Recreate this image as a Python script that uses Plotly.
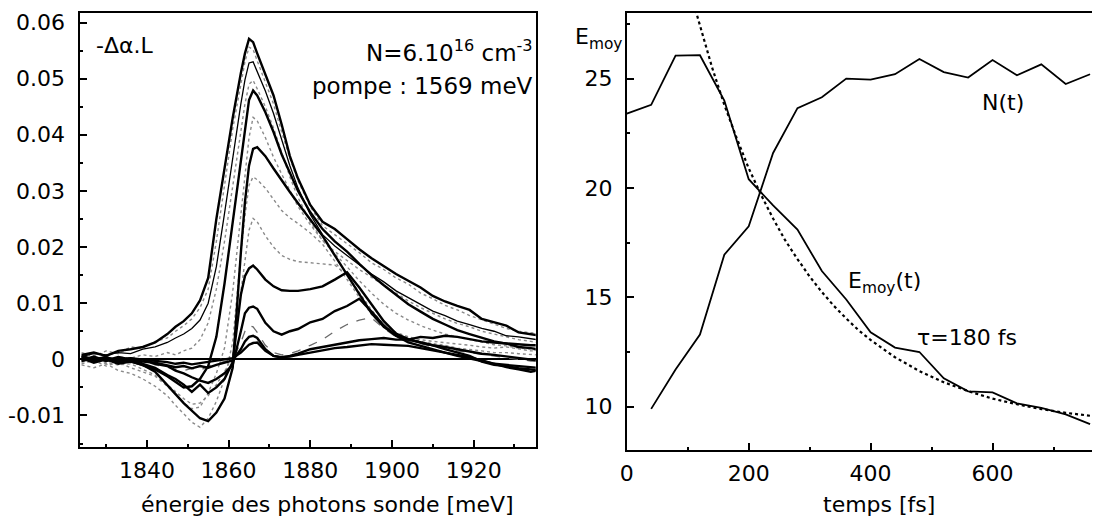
import plotly.graph_objects as go

# The page adds an 8 px body margin; the figure is sized so that it fills the 1100x523 window exactly.
OFF = 8
W, H = 1100 - OFF, 523 - OFF

# ---------------- Left panel data ----------------
energy = [1824, 1827, 1830, 1833, 1836, 1839, 1842, 1845, 1847, 1849, 1851, 1853, 1855, 1857,
          1859, 1861, 1863, 1864, 1865, 1866, 1867, 1869, 1871, 1873, 1875, 1877, 1880, 1883,
          1886, 1889, 1892, 1895, 1898, 1901, 1904, 1907, 1910, 1913, 1916, 1919, 1922, 1925,
          1928, 1931, 1934, 1935.5]

s1 = [0.0008, 0.0012, 0.0006, 0.0015, 0.0018, 0.0022, 0.0030, 0.0045, 0.0058, 0.0068, 0.0082, 0.0105, 0.0145, 0.0250,
      0.0340, 0.0430, 0.0510, 0.0545, 0.0571, 0.0565, 0.0545, 0.0509, 0.0470, 0.0418, 0.0362, 0.0322, 0.0275, 0.0245,
      0.0232, 0.0214, 0.0196, 0.0180, 0.0166, 0.0152, 0.0140, 0.0128, 0.0113, 0.0103, 0.0095, 0.0088, 0.0072, 0.0066,
      0.0060, 0.0048, 0.0045, 0.0043]
s2 = [0.0012, 0.0005, 0.0015, 0.0010, 0.0022, 0.0020, 0.0032, 0.0038, 0.0050, 0.0060, 0.0072, 0.0092, 0.0125, 0.0210,
      0.0310, 0.0410, 0.0490, 0.0530, 0.0556, 0.0552, 0.0532, 0.0495, 0.0455, 0.0405, 0.0358, 0.0318, 0.0272, 0.0238,
      0.0222, 0.0205, 0.0190, 0.0172, 0.0160, 0.0145, 0.0134, 0.0118, 0.0108, 0.0096, 0.0088, 0.0078, 0.0070, 0.0062,
      0.0055, 0.0050, 0.0048, 0.0046]
s3 = [0.0005, 0.0010, 0.0008, 0.0012, 0.0010, 0.0018, 0.0022, 0.0030, 0.0038, 0.0045, 0.0055, 0.0070, 0.0100, 0.0165,
      0.0260, 0.0360, 0.0455, 0.0498, 0.0528, 0.0530, 0.0512, 0.0478, 0.0438, 0.0392, 0.0345, 0.0305, 0.0258, 0.0222,
      0.0202, 0.0185, 0.0168, 0.0152, 0.0138, 0.0122, 0.0110, 0.0098, 0.0086, 0.0078, 0.0068, 0.0062, 0.0055, 0.0050,
      0.0042, 0.0040, 0.0036, 0.0035]
s4 = [-0.0005, 0.0002, -0.0008, 0.0004, 0.0002, 0.0008, 0.0005, 0.0012, 0.0008, 0.0015, 0.0020, 0.0035, 0.0065, 0.0125,
      0.0210, 0.0310, 0.0410, 0.0455, 0.0490, 0.0497, 0.0482, 0.0450, 0.0412, 0.0368, 0.0325, 0.0288, 0.0245, 0.0212,
      0.0192, 0.0176, 0.0160, 0.0146, 0.0132, 0.0118, 0.0104, 0.0092, 0.0082, 0.0072, 0.0064, 0.0058, 0.0050, 0.0045,
      0.0040, 0.0035, 0.0032, 0.0030]
s5 = [0.0003, -0.0004, 0.0002, -0.0006, -0.0003, -0.0010, -0.0018, -0.0030, -0.0040, -0.0050, -0.0048, -0.0035, -0.0012, 0.0040,
      0.0135, 0.0245, 0.0362, 0.0415, 0.0462, 0.0479, 0.0470, 0.0440, 0.0405, 0.0365, 0.0332, 0.0300, 0.0262, 0.0232,
      0.0210, 0.0192, 0.0170, 0.0150, 0.0132, 0.0115, 0.0098, 0.0085, 0.0072, 0.0062, 0.0052, 0.0045, 0.0038, 0.0032,
      0.0028, 0.0022, 0.0020, 0.0018]
s6 = [-0.0008, -0.0002, -0.0012, -0.0005, -0.0015, -0.0022, -0.0030, -0.0048, -0.0062, -0.0078, -0.0088, -0.0085, -0.0060, -0.0025,
      0.0020, 0.0120, 0.0260, 0.0320, 0.0395, 0.0431, 0.0425, 0.0395, 0.0360, 0.0330, 0.0300, 0.0272, 0.0240, 0.0212,
      0.0188, 0.0165, 0.0140, 0.0118, 0.0098, 0.0082, 0.0070, 0.0060, 0.0052, 0.0045, 0.0040, 0.0035, 0.0030, 0.0026,
      0.0024, 0.0020, 0.0018, 0.0016]
s7 = [0.0002, -0.0006, 0.0000, -0.0008, -0.0004, -0.0010, -0.0022, -0.0045, -0.0062, -0.0078, -0.0092, -0.0105, -0.0110, -0.0095,
      -0.0070, -0.0015, 0.0190, 0.0280, 0.0345, 0.0375, 0.0378, 0.0362, 0.0340, 0.0318, 0.0298, 0.0278, 0.0250, 0.0220,
      0.0185, 0.0150, 0.0115, 0.0082, 0.0058, 0.0042, 0.0035, 0.0030, 0.0025, 0.0022, 0.0018, 0.0015, 0.0010, 0.0008,
      0.0005, 0.0002, 0.0000, -0.0002]
s8 = [-0.0010, -0.0015, -0.0008, -0.0020, -0.0025, -0.0035, -0.0048, -0.0065, -0.0082, -0.0098, -0.0112, -0.0121, -0.0105, -0.0075,
      -0.0035, 0.0030, 0.0190, 0.0255, 0.0310, 0.0325, 0.0320, 0.0305, 0.0285, 0.0265, 0.0252, 0.0242, 0.0225, 0.0205,
      0.0175, 0.0142, 0.0110, 0.0080, 0.0058, 0.0045, 0.0038, 0.0032, 0.0028, 0.0025, 0.0020, 0.0018, 0.0015, 0.0012,
      0.0012, 0.0010, 0.0008, 0.0008]
s9 = [-0.0004, 0.0004, -0.0006, -0.0010, -0.0008, -0.0018, -0.0028, -0.0045, -0.0058, -0.0070, -0.0080, -0.0078, -0.0065, -0.0045,
      -0.0022, 0.0005, 0.0120, 0.0180, 0.0230, 0.0251, 0.0245, 0.0220, 0.0200, 0.0185, 0.0178, 0.0174, 0.0172, 0.0170,
      0.0168, 0.0150, 0.0118, 0.0088, 0.0062, 0.0048, 0.0040, 0.0035, 0.0032, 0.0030, 0.0028, 0.0025, 0.0022, 0.0020,
      0.0022, 0.0018, 0.0015, 0.0015]
s10 = [0.0006, 0.0000, 0.0004, -0.0004, 0.0002, -0.0008, -0.0015, -0.0028, -0.0035, -0.0045, -0.0058, -0.0045, -0.0060, -0.0050,
       -0.0035, -0.0005, 0.0115, 0.0148, 0.0162, 0.0167, 0.0160, 0.0142, 0.0130, 0.0123, 0.0122, 0.0122, 0.0125, 0.0130,
       0.0142, 0.0155, 0.0128, 0.0098, 0.0068, 0.0046, 0.0036, 0.0030, 0.0025, 0.0018, 0.0012, 0.0006, -0.0004, -0.0010,
       -0.0012, -0.0016, -0.0018, -0.0019]
s11 = [-0.0002, 0.0005, -0.0003, 0.0002, -0.0005, 0.0000, -0.0008, -0.0012, -0.0020, -0.0025, -0.0032, -0.0038, -0.0042, -0.0035,
       -0.0025, -0.0010, 0.0050, 0.0082, 0.0092, 0.0094, 0.0090, 0.0065, 0.0050, 0.0044, 0.0050, 0.0054, 0.0066, 0.0072,
       0.0086, 0.0095, 0.0108, 0.0085, 0.0060, 0.0042, 0.0030, 0.0024, 0.0018, 0.0012, 0.0008, 0.0004, -0.0002, -0.0008,
       -0.0014, -0.0018, -0.0022, -0.0020]
s12 = [0.0004, -0.0003, 0.0006, 0.0000, -0.0006, -0.0002, -0.0010, -0.0014, -0.0018, -0.0020, -0.0016, -0.0020, -0.0012, -0.0008,
       -0.0004, 0.0000, 0.0030, 0.0050, 0.0060, 0.0058, 0.0048, 0.0025, 0.0012, 0.0008, 0.0010, 0.0015, 0.0025, 0.0035,
       0.0050, 0.0062, 0.0070, 0.0074, 0.0055, 0.0040, 0.0032, 0.0028, 0.0022, 0.0020, 0.0015, 0.0012, 0.0008, 0.0005,
       0.0002, 0.0000, -0.0003, -0.0003]
s13 = [-0.0003, 0.0002, -0.0002, 0.0004, 0.0000, -0.0004, -0.0006, -0.0010, -0.0014, -0.0012, -0.0016, -0.0012, -0.0015, -0.0010,
       -0.0006, -0.0002, 0.0018, 0.0032, 0.0040, 0.0042, 0.0038, 0.0018, 0.0006, 0.0003, 0.0006, 0.0010, 0.0018, 0.0022,
       0.0027, 0.0030, 0.0034, 0.0036, 0.0038, 0.0035, 0.0035, 0.0040, 0.0038, 0.0042, 0.0040, 0.0036, 0.0032, 0.0030,
       0.0028, 0.0026, 0.0025, 0.0025]
s14 = [0.0002, -0.0002, 0.0003, -0.0001, 0.0002, 0.0000, -0.0003, -0.0005, -0.0008, -0.0006, -0.0009, -0.0007, -0.0005, -0.0003,
       0.0000, 0.0002, 0.0012, 0.0020, 0.0026, 0.0029, 0.0030, 0.0015, 0.0006, 0.0004, 0.0005, 0.0008, 0.0012, 0.0016,
       0.0020, 0.0022, 0.0025, 0.0027, 0.0026, 0.0025, 0.0024, 0.0020, 0.0016, 0.0012, 0.0006, 0.0002, -0.0003, -0.0008,
       -0.0010, -0.0013, -0.0015, -0.0015]

# style per spectrum: (series, kind)
spectra = [(s2, "gray"), (s4, "gray"), (s6, "gray"), (s8, "gray"), (s9, "gray"), (s12, "dash"),
           (s3, "thin"), (s14, "thick"), (s13, "thick"), (s11, "thick"), (s10, "thick"),
           (s7, "thick"), (s5, "thick"), (s1, "thick")]

# ---------------- Right panel data ----------------
t_N = [40, 80, 120, 160, 200, 240, 280, 320, 360, 400, 440, 480, 520, 560, 600, 640, 680, 720, 760]
N_t = [9.9, 11.7, 13.3, 16.95, 18.25, 21.6, 23.65, 24.15, 25.0, 24.95, 25.2, 25.9, 25.3, 25.05, 25.85, 25.15, 25.65, 24.75, 25.2]

t_E = [0, 40, 80, 120, 160, 200, 240, 280, 320, 360, 400, 440, 480, 520, 560, 600, 640, 680, 720, 760]
E_t = [23.4, 23.8, 26.05, 26.07, 24.0, 20.4, 19.2, 18.1, 16.2, 14.9, 13.4, 12.7, 12.5, 11.3, 10.7, 10.65, 10.15, 9.95, 9.65, 9.2]

t_fit = [110, 120, 140, 160, 180, 200, 220, 240, 260, 280, 300, 320, 340, 360, 380, 400, 440, 480, 520, 560, 600,
         640, 680, 720, 773]
E_fit = [28.4, 27.4, 25.5, 23.8, 22.3, 20.9, 19.7, 18.6, 17.6, 16.75, 15.95, 15.24, 14.6, 14.03, 13.5, 13.05, 12.26,
         11.63, 11.12, 10.71, 10.37, 10.11, 9.89, 9.72, 9.54]

left_ticks = [-0.01, 0, 0.01, 0.02, 0.03, 0.04, 0.05, 0.06]
left_ticktext = ["-0.01", "0", "0.01", "0.02", "0.03", "0.04", "0.05", "0.06"]
bottom_ticks = [1840, 1860, 1880, 1900, 1920]
right_yticks = [10, 15, 20, 25]
right_xticks = [0, 200, 400, 600]

FONT = "DejaVu Sans"
FS = 22

fig = go.Figure()

styles = {
    "thick": dict(color="black", width=2.4),
    "thin": dict(color="black", width=1.3),
    "gray": dict(color="#8a8a8a", width=1.4, dash="dot"),
    "dash": dict(color="#6a6a6a", width=1.3, dash="dash"),
}
for ser, kind in spectra:
    fig.add_trace(go.Scatter(x=energy, y=ser, mode="lines", line=styles[kind],
                             xaxis="x", yaxis="y", showlegend=False, hoverinfo="skip"))

fig.add_trace(go.Scatter(x=t_N, y=N_t, mode="lines", line=dict(color="black", width=1.8),
                         xaxis="x2", yaxis="y2", showlegend=False))
fig.add_trace(go.Scatter(x=t_E, y=E_t, mode="lines", line=dict(color="black", width=1.8),
                         xaxis="x2", yaxis="y2", showlegend=False))
fig.add_trace(go.Scatter(x=t_fit, y=E_fit, mode="lines", line=dict(color="black", width=2.2, dash="dot"),
                         xaxis="x2", yaxis="y2", showlegend=False))


def px(x):
    # screen pixel -> paper fraction
    return min(1.0, max(0.0, (x - OFF) / W))


def py(y):
    return min(1.0, max(0.0, 1 - (y - OFF) / H))


axis_common = dict(showline=True, linecolor="black", linewidth=2, mirror=True, ticks="inside",
                   tickcolor="black", showgrid=False, ticklabeloverflow="allow",
                   tickfont=dict(family=FONT, size=FS, color="black"))

fig.update_layout(
    width=W, height=H, autosize=False,
    margin=dict(l=0, r=0, t=0, b=0),
    paper_bgcolor="white", plot_bgcolor="white",
    font=dict(family=FONT, size=FS, color="black"),
    xaxis=dict(domain=[px(72), px(532)], range=[1823.7, 1935.2], tickvals=bottom_ticks,
               ticklen=7, tickwidth=1.5, ticklabelstandoff=2,
               minor=dict(dtick=10, tick0=1820, ticklen=3, ticks="inside", tickcolor="black"),
               zeroline=False, anchor="y", **axis_common),
    yaxis=dict(domain=[py(447), py(10)], range=[-0.0157, 0.0617], tickvals=left_ticks,
               ticktext=left_ticktext, ticklen=7, tickwidth=1.5, ticklabelstandoff=9,
               minor=dict(dtick=0.005, tick0=0, ticklen=3, ticks="inside", tickcolor="black"),
               zeroline=True, zerolinecolor="black", zerolinewidth=2.2, anchor="x", **axis_common),
    xaxis2=dict(domain=[px(624), 1.0], range=[0, 773], tickvals=right_xticks,
                ticklen=7, tickwidth=1.5, ticklabelstandoff=2,
                minor=dict(dtick=100, tick0=0, ticklen=3, ticks="inside", tickcolor="black"),
                zeroline=False, anchor="y2", **axis_common),
    yaxis2=dict(domain=[py(450), py(10)], range=[8, 28], tickvals=right_yticks,
                ticklen=7, tickwidth=1.5, ticklabelstandoff=8,
                minor=dict(dtick=2.5, tick0=0, ticklen=3, ticks="inside", tickcolor="black"),
                zeroline=False, anchor="x2", **axis_common),
)

ann = [
    dict(text="-Δα.L", x=px(86), y=py(43), xanchor="left", yanchor="middle", font=dict(size=FS)),
    dict(text="N=6.10<sup>16</sup> cm<sup>-3</sup>", x=px(531), y=py(48), xanchor="right", yanchor="middle",
         font=dict(size=FS + 1)),
    dict(text="pompe : 1569 meV", x=px(531), y=py(83), xanchor="right", yanchor="middle", font=dict(size=FS + 1)),
    dict(text="énergie des photons sonde [meV]", x=px(322), y=py(504), xanchor="center", yanchor="middle"),
    dict(text="temps [fs]", x=px(879), y=py(504), xanchor="center", yanchor="middle"),
    dict(text="E<sub>moy</sub>", x=px(621), y=py(36), xanchor="right", yanchor="middle"),
    dict(text="N(t)", x=px(1004), y=py(100), xanchor="center", yanchor="middle"),
    dict(text="E<sub>moy</sub>(t)", x=px(845), y=py(281), xanchor="left", yanchor="middle"),
    dict(text="τ=180 fs", x=px(915), y=py(336), xanchor="left", yanchor="middle"),
]
for a in ann:
    a.update(xref="paper", yref="paper", showarrow=False)
    size = a.get("font", {}).get("size", FS)
    a["font"] = dict(family=FONT, color="black", size=size)
fig.update_layout(annotations=ann)

fig.write_html("out.html")
